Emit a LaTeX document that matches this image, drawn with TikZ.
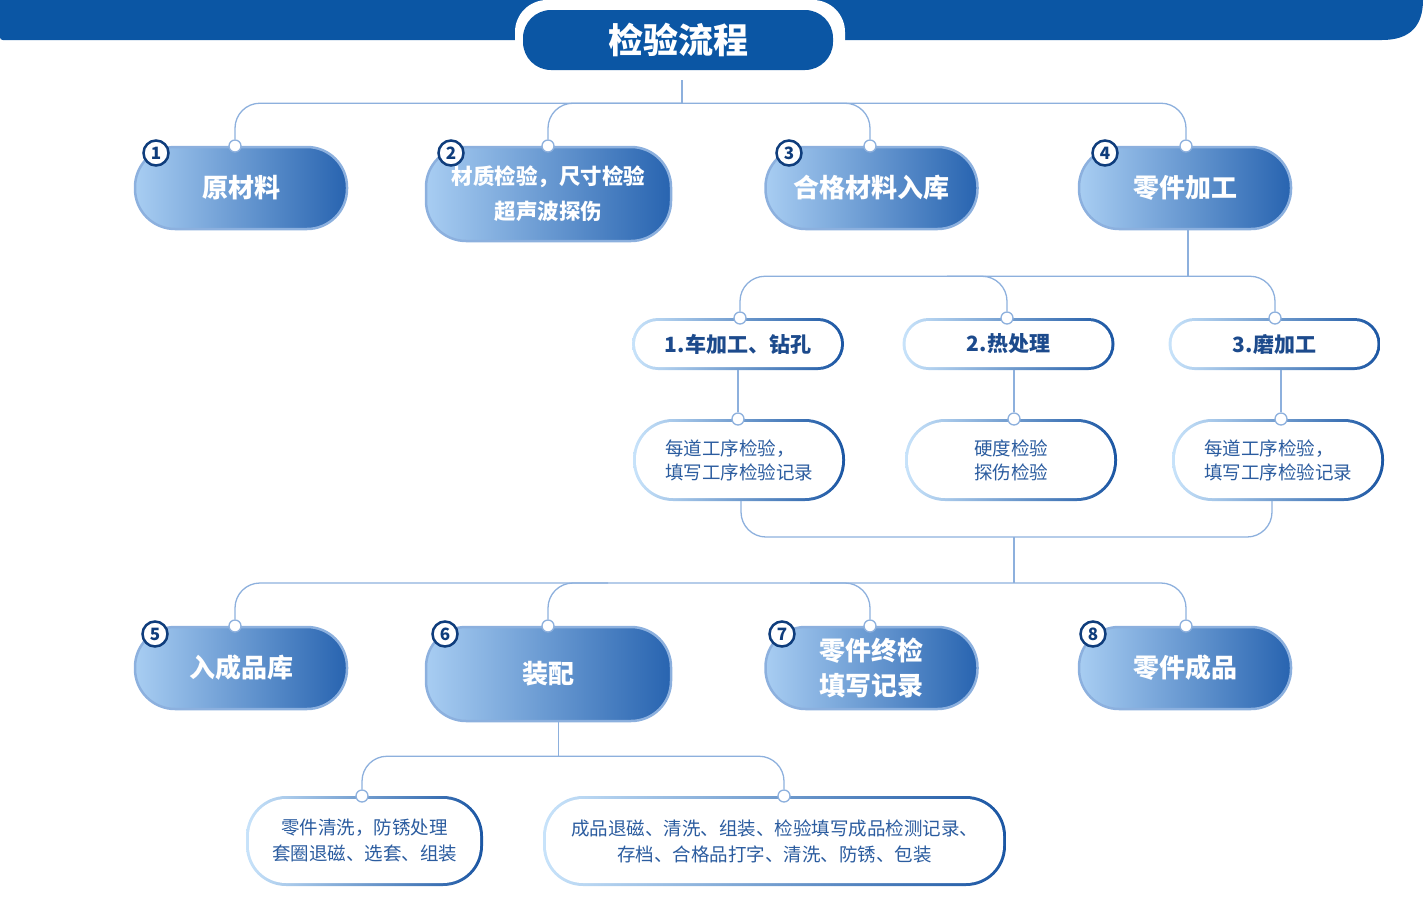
\documentclass[tikz,border=0pt]{standalone}
\usepackage{fontspec}
\setmainfont{Noto Sans CJK SC}
\usetikzlibrary{calc}
\definecolor{banner}{HTML}{0B56A4}
\definecolor{conn}{HTML}{8DB0DD}
\definecolor{la}{HTML}{A8CDF2}
\definecolor{lb}{HTML}{2864B0}
\definecolor{lbord}{HTML}{8CB0DE}
\definecolor{ga}{HTML}{C8E3FA}
\definecolor{gb}{HTML}{1B56A3}
\definecolor{navy}{HTML}{0F3D7C}
\definecolor{dtext}{HTML}{1C4A8C}
\definecolor{stext}{HTML}{2B5C9F}
\newcommand\gpill[8]{%
  \node[GO,minimum width=#4pt,minimum height=#5pt,rounded corners=#6pt] (#1) at (#2,#3) {};
  \node[GI,minimum width=\the\numexpr#4-6\relax pt,minimum height=\the\numexpr#5-6\relax pt,rounded corners=\the\numexpr#6-3\relax pt,#7] (#1i) at (#1) {#8};}
\begin{document}
\begin{tikzpicture}[x=1pt,y=-1pt,
  connl/.style={draw=conn,line width=1.3pt},
  rc/.style={connl,rounded corners=25pt},
  dot/.style={circle,draw=conn,fill=white,line width=1.3pt,inner sep=0pt,minimum size=12pt},
  L1/.style={draw=lbord,line width=2.5pt,left color=la,right color=lb,rounded corners=40pt,inner sep=0pt,text=white,align=center,font=\bfseries\fontsize{26}{35}\selectfont},
  badge/.style={circle,draw=navy,fill=white,line width=2.5pt,inner sep=0pt,minimum size=25pt,text=navy,font=\bfseries\fontsize{17}{17}\selectfont},
  GO/.style={left color=ga,right color=gb,inner sep=0pt},
  GI/.style={fill=white,inner sep=0pt,align=center},
  t2/.style={text=dtext,font=\bfseries\fontsize{21}{24}\selectfont},
  t3/.style={text=stext,font=\fontsize{18.5}{24}\selectfont},
  t4/.style={text=stext,font=\fontsize{18.5}{26}\selectfont}
]
\useasboundingbox (0,0) rectangle (1425,908);
% banner
\fill[banner] (0,0) -- (1423,0) .. controls (1423,26) and (1410,40) .. (1382,40) -- (3,40) .. controls (1,40) and (0,39) .. (0,37) -- cycle;
\node[fill=white,rounded corners=32pt,minimum width=330pt,minimum height=80pt,inner sep=0pt] (titleo) at (680,40) {};
\node[fill=banner,rounded corners=28pt,minimum width=310pt,minimum height=60pt,inner sep=0pt,text=white,font=\bfseries\fontsize{35}{35}\selectfont] (title) at (678,40) {检验流程};

% level 1 boxes
\node[L1,minimum width=212pt,minimum height=82pt] (b1) at (241,188) {原材料};
\node[L1,minimum width=245pt,minimum height=94pt,font=\bfseries\fontsize{21.5}{35}\selectfont] (b2) at (548.5,194) {材质检验，尺寸检验\\超声波探伤};
\node[L1,minimum width=212pt,minimum height=82pt] (b3) at (871.5,188) {合格材料入库};
\node[L1,minimum width=212pt,minimum height=82pt] (b4) at (1185,188) {零件加工};
\node[badge] (n1) at (156,153) {1};
\node[badge] (n2) at (451,153) {2};
\node[badge] (n3) at (789,153) {3};
\node[badge] (n4) at (1105,153) {4};
\node[dot] (d1) at (235,146) {};
\node[dot] (d2) at (548,146) {};
\node[dot] (d3) at (870,146) {};
\node[dot] (d4) at (1186,146) {};
\path (titleo.south) ++(2,23) coordinate (h1);
\draw[connl] (h1 |- titleo.south) -- (h1);
\draw[rc] (d1.north) -- (d1.north |- h1) -- (d4.north |- h1) -- (d4.north);
\draw[rc] (d2.north) -- (d2.north |- h1) -- (h1);
\draw[rc] (d3.north) -- (d3.north |- h1) -- ++(-60,0);

% level 2
\gpill{s1}{738}{344}{212}{52}{26}{t2}{1.车加工、钻孔}
\gpill{s2}{1008.5}{344}{212}{52}{26}{t2}{2.热处理}
\gpill{s3}{1274.5}{344}{212}{52}{26}{t2}{3.磨加工}
\node[dot] (d5) at (740,318) {};
\node[dot] (d6) at (1007,318) {};
\node[dot] (d7) at (1275,318) {};
\path (b4.south) ++(3,46) coordinate (h2);
\draw[connl] (h2 |- b4.south) -- (h2);
\draw[rc] (d5.north) -- (d5.north |- h2) -- (d7.north |- h2) -- (d7.north);
\draw[rc] (d6.north) -- (d6.north |- h2) -- ++(-60,0);

% level 3
\gpill{u1}{739}{460}{212}{82}{40}{t3,align=left}{每道工序检验，\\填写工序检验记录}
\gpill{u2}{1011}{460}{212}{82}{40}{t3}{硬度检验\\探伤检验}
\gpill{u3}{1278}{460}{212}{82}{40}{t3,align=left}{每道工序检验，\\填写工序检验记录}
\node[dot] (d8) at (738,419) {};
\node[dot] (d9) at (1014,419) {};
\node[dot] (d10) at (1281,419) {};
\draw[connl] (s1.south) -- (d8.north);
\draw[connl] (d9.north |- s2.south) -- (d9.north);
\draw[connl] (d10.north |- s3.south) -- (d10.north);
\coordinate (m) at (1014,537);
\coordinate (ml) at (741,537);
\coordinate (mr) at (1272,537);
\draw[rc] (ml |- u1.south) -- (ml) -- (mr) -- (mr |- u3.south);
\path (m) ++(0,46) coordinate (h3);
\draw[connl] (m) -- (h3);

% row 2 boxes
\node[L1,minimum width=212pt,minimum height=82pt] (b5) at (241,668) {入成品库};
\node[L1,minimum width=245pt,minimum height=94pt] (b6) at (548.5,674) {装配};
\node[L1,minimum width=212pt,minimum height=82pt] (b7) at (871.5,668) {零件终检\\填写记录};
\node[L1,minimum width=212pt,minimum height=82pt] (b8) at (1185,668) {零件成品};
\node[badge] (n5) at (155,634) {5};
\node[badge] (n6) at (445,634) {6};
\node[badge] (n7) at (782,634) {7};
\node[badge] (n8) at (1093,634) {8};
\node[dot] (d11) at (235,626) {};
\node[dot] (d12) at (548,626) {};
\node[dot] (d13) at (870,626) {};
\node[dot] (d14) at (1186,626) {};
\draw[rc] (d11.north) -- (d11.north |- h3) -- (d14.north |- h3) -- (d14.north);
\draw[rc] (d12.north) -- (d12.north |- h3) -- ++(60,0);
\draw[rc] (d13.north) -- (d13.north |- h3) -- ++(-60,0);

% bottom
\gpill{w1}{364.5}{841}{237}{90}{40}{t4}{零件清洗，防锈处理\\套圈退磁、选套、组装}
\gpill{w2}{774.5}{841}{463}{90}{40}{t4}{成品退磁、清洗、组装、检验填写成品检测记录、\\存档、合格品打字、清洗、防锈、包装}
\node[dot] (d15) at (362,796) {};
\node[dot] (d16) at (784,796) {};
\path (b6.south) ++(10,34) coordinate (h4);
\draw[connl] (h4 |- b6.south) -- (h4);
\draw[rc] (d15.north) -- (d15.north |- h4) -- (d16.north |- h4) -- (d16.north);
\end{tikzpicture}
\end{document}
